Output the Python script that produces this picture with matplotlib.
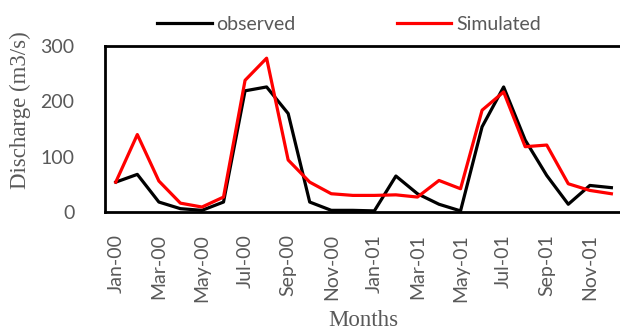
import matplotlib
matplotlib.use("Agg")
import matplotlib.pyplot as plt

months = ["Jan-00", "Feb-00", "Mar-00", "Apr-00", "May-00", "Jun-00",
          "Jul-00", "Aug-00", "Sep-00", "Oct-00", "Nov-00", "Dec-00",
          "Jan-01", "Feb-01", "Mar-01", "Apr-01", "May-01", "Jun-01",
          "Jul-01", "Aug-01", "Sep-01", "Oct-01", "Nov-01", "Dec-01"]
observed = [54, 68, 18, 6, 3, 18, 219, 226, 178, 18, 3, 3,
            2, 65, 33, 14, 2, 154, 226, 130, 66, 14, 48, 44]
simulated = [54, 140, 56, 16, 9, 27, 238, 278, 94, 54, 33, 30,
             30, 31, 27, 57, 42, 184, 217, 118, 121, 51, 39, 33]
yticks = [0, 100, 200, 300]

text_gray = "#595959"

fig = plt.figure(figsize=(6.2, 3.3), dpi=100)
ax = fig.add_axes([105 / 620, (330 - 212) / 330, 515 / 620, 166 / 330])

x = list(range(len(months)))
ax.plot(x, observed, color="black", lw=2.3, label="observed", solid_joinstyle="round")
ax.plot(x, simulated, color="#FF0000", lw=2.3, label="Simulated", solid_joinstyle="round")

ax.set_xlim(-0.5, 23.4)
ax.set_ylim(0, 300)
ax.set_yticks(yticks)
ax.set_xticks(x[::2])
ax.set_xticklabels(months[::2], rotation=90)

for s in ["left", "top", "bottom"]:
    ax.spines[s].set_linewidth(2)
    ax.spines[s].set_color("black")
ax.spines["right"].set_visible(False)

ax.tick_params(length=0, labelsize=14, labelcolor=text_gray, labelfontfamily="Lato")
ax.tick_params(axis="y", pad=22)
ax.tick_params(axis="x", pad=16)

fig.text(20 / 620, 1 - 110 / 330, "Discharge (m3/s)", rotation=90, ha="center", va="center",
         family="Liberation Serif", fontsize=16.5, color=text_gray)
fig.text(363 / 620, 1 - 320 / 330, "Months", ha="center", va="center",
         family="Liberation Serif", fontsize=16.5, color=text_gray)

leg = fig.legend(loc="center", bbox_to_anchor=(349 / 620, 1 - 24 / 330), ncol=2, frameon=False,
                 prop={"family": "Lato", "size": 14}, handlelength=2.8, handletextpad=0.25,
                 columnspacing=5.2, borderpad=0)
for t in leg.get_texts():
    t.set_color(text_gray)

fig.savefig("out.png", dpi=100)
